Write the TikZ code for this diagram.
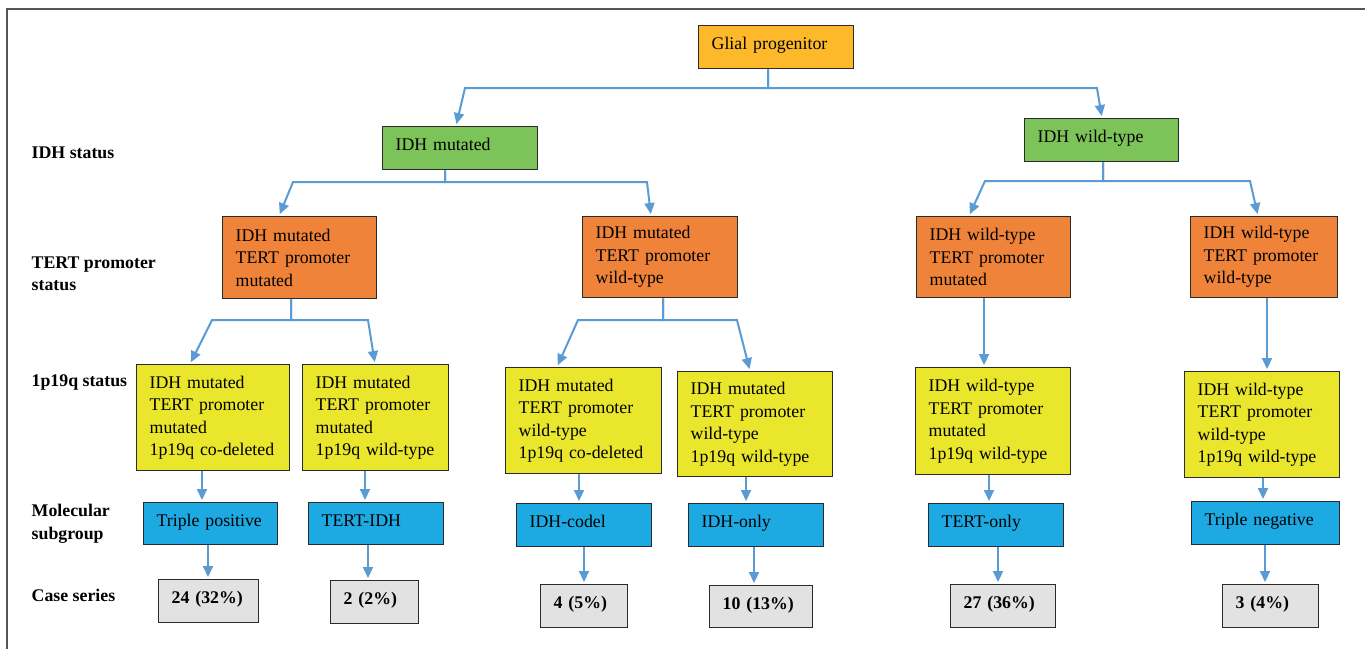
\documentclass[tikz,border=0pt]{standalone}
\usepackage{fontspec}
\setmainfont{Liberation Serif}
\usetikzlibrary{arrows.meta}
\definecolor{cgold}{HTML}{FDB92A}
\definecolor{cgreen}{HTML}{7CC35A}
\definecolor{corange}{HTML}{EF833A}
\definecolor{cyellow}{HTML}{EAE62B}
\definecolor{cblue}{HTML}{1DA9E2}
\definecolor{cgray}{HTML}{E2E2E2}
\definecolor{cbord}{HTML}{2B2B2B}
\definecolor{carrow}{HTML}{5B9BD5}
\definecolor{cframe}{HTML}{555555}
\newcommand\boxfont{\fontsize{17.8}{22.5}\selectfont}
\tikzset{
  box/.style={draw=cbord, line width=1.3pt, anchor=north west, inner xsep=13pt, inner ysep=1pt, align=left, font=\boxfont},
  wh/.style n args={3}{minimum width=#1pt, minimum height=#2pt, text width=#3pt},
  oneline/.style={text height=12.5pt, text depth=7pt},
  goldbox/.style={box, oneline, fill=cgold},
  greenbox/.style={box, oneline, fill=cgreen},
  orangebox/.style={box, fill=corange},
  yellowbox/.style={box, fill=cyellow},
  bluebox/.style={box, oneline, fill=cblue},
  graybox/.style={box, oneline, fill=cgray, font=\boxfont\bfseries},
  conn/.style={draw=carrow, line width=2pt, -{Triangle[length=11pt,width=10pt]}, shorten >=2pt},
  lab/.style={font=\boxfont\bfseries, anchor=west, inner sep=0pt, align=left},
}
\begin{document}
\begin{tikzpicture}[x=1pt, y=-1pt]
\useasboundingbox (0,0) rectangle (1365,649);
\fill[white] (0,0) rectangle (1365,649);
\draw[cframe, line width=2pt] (1365,9) -- (7,9) -- (7,649);

% row labels
\node[lab] (l1) at (31.5,153) {IDH status};
\node[lab] (l2) at (31.5,274) {TERT promoter\\status};
\node[lab] (l3) at (31.5,382) {1p19q status};
\node[lab] (l4) at (31.5,524) {Molecular\\subgroup};
\node[lab] (l5) at (31.5,595) {Case series};

% level 0/1
\node[goldbox, wh={155}{43}{129}] (gp) at (698,25) {Glial progenitor};
\node[greenbox, wh={155}{43}{129}] (im) at (382,126) {IDH mutated};
\node[greenbox, wh={154}{43}{128}] (iw) at (1024,118) {IDH wild-type};

% TERT level
\node[orangebox, wh={154}{82}{128}] (o1) at (222,216) {IDH mutated\\TERT promoter\\mutated};
\node[orangebox, wh={155}{81}{129}] (o2) at (582,216) {IDH mutated\\TERT promoter\\wild-type};
\node[orangebox, wh={154}{81}{128}] (o3) at (916,216) {IDH wild-type\\TERT promoter\\mutated};
\node[orangebox, wh={147}{81}{121}] (o4) at (1190,216) {IDH wild-type\\TERT promoter\\wild-type};

% 1p19q level
\node[yellowbox, wh={153}{106}{127}] (y1) at (136,364) {IDH mutated\\TERT promoter\\mutated\\1p19q co-deleted};
\node[yellowbox, wh={146}{106}{120}] (y2) at (302,364) {IDH mutated\\TERT promoter\\mutated\\1p19q wild-type};
\node[yellowbox, wh={156}{106}{130}] (y3) at (505,367) {IDH mutated\\TERT promoter\\wild-type\\1p19q co-deleted};
\node[yellowbox, wh={155}{105}{129}] (y4) at (677,371) {IDH mutated\\TERT promoter\\wild-type\\1p19q wild-type};
\node[yellowbox, wh={155}{107}{129}] (y5) at (915,367) {IDH wild-type\\TERT promoter\\mutated\\1p19q wild-type};
\node[yellowbox, wh={155}{106}{129}] (y6) at (1184,371) {IDH wild-type\\TERT promoter\\wild-type\\1p19q wild-type};

% subgroup level
\node[bluebox, wh={134}{42}{108}] (b1) at (143,502) {Triple positive};
\node[bluebox, wh={135}{42}{109}] (b2) at (308,502) {TERT-IDH};
\node[bluebox, wh={135}{43}{109}] (b3) at (516,503) {IDH-codel};
\node[bluebox, wh={135}{43}{109}] (b4) at (688,503) {IDH-only};
\node[bluebox, wh={135}{43}{109}] (b5) at (928,503) {TERT-only};
\node[bluebox, wh={148}{43}{122}] (b6) at (1191,501) {Triple negative};

% case series
\node[graybox, wh={100}{43}{74}] (g1) at (158,579) {24 (32\%)};
\node[graybox, wh={88}{43}{62}] (g2) at (330,580) {2 (2\%)};
\node[graybox, wh={87}{43}{61}] (g3) at (540,584) {4 (5\%)};
\node[graybox, wh={103}{42}{77}] (g4) at (709,585) {10 (13\%)};
\node[graybox, wh={105}{43}{79}] (g5) at (950,584) {27 (36\%)};
\node[graybox, wh={96}{43}{70}] (g6) at (1222,584) {3 (4\%)};

% connectors level 1
\draw[conn] (768,0 |- gp.south) -- (768,88) -- (465,88) -- (456,0 |- im.north);
\draw[conn] (768,0 |- gp.south) -- (768,88) -- (1097,88) -- (1102,0 |- iw.north);
% level 2
\draw[conn] (445,0 |- im.south) -- (445,182) -- (293,182) -- (279,0 |- o1.north);
\draw[conn] (445,0 |- im.south) -- (445,182) -- (647,182) -- (651,0 |- o2.north);
\draw[conn] (1103,0 |- iw.south) -- (1103,181) -- (985,181) -- (969,0 |- o3.north);
\draw[conn] (1103,0 |- iw.south) -- (1103,181) -- (1250,181) -- (1258,0 |- o4.north);
% level 3
\draw[conn] (291,0 |- o1.south) -- (291,320) -- (212,320) -- (190,0 |- y1.north);
\draw[conn] (291,0 |- o1.south) -- (291,320) -- (368,320) -- (375,0 |- y2.north);
\draw[conn] (663,0 |- o2.south) -- (663,320) -- (578,320) -- (557,0 |- y3.north);
\draw[conn] (663,0 |- o2.south) -- (663,320) -- (737,320) -- (750,0 |- y4.north);
\draw[conn] (984,0 |- o3.south) -- (984,0 |- y5.north);
\draw[conn] (1267,0 |- o4.south) -- (1267,0 |- y6.north);
% level 4
\draw[conn] (202,0 |- y1.south) -- (202,0 |- b1.north);
\draw[conn] (365,0 |- y2.south) -- (365,0 |- b2.north);
\draw[conn] (579,0 |- y3.south) -- (579,0 |- b3.north);
\draw[conn] (746,0 |- y4.south) -- (746,0 |- b4.north);
\draw[conn] (989,0 |- y5.south) -- (989,0 |- b5.north);
\draw[conn] (1263,0 |- y6.south) -- (1263,0 |- b6.north);
% level 5
\draw[conn] (208,0 |- b1.south) -- (208,0 |- g1.north);
\draw[conn] (368,0 |- b2.south) -- (368,0 |- g2.north);
\draw[conn] (584,0 |- b3.south) -- (584,0 |- g3.north);
\draw[conn] (754,0 |- b4.south) -- (754,0 |- g4.north);
\draw[conn] (998,0 |- b5.south) -- (998,0 |- g5.north);
\draw[conn] (1265,0 |- b6.south) -- (1265,0 |- g6.north);
\end{tikzpicture}
\end{document}
